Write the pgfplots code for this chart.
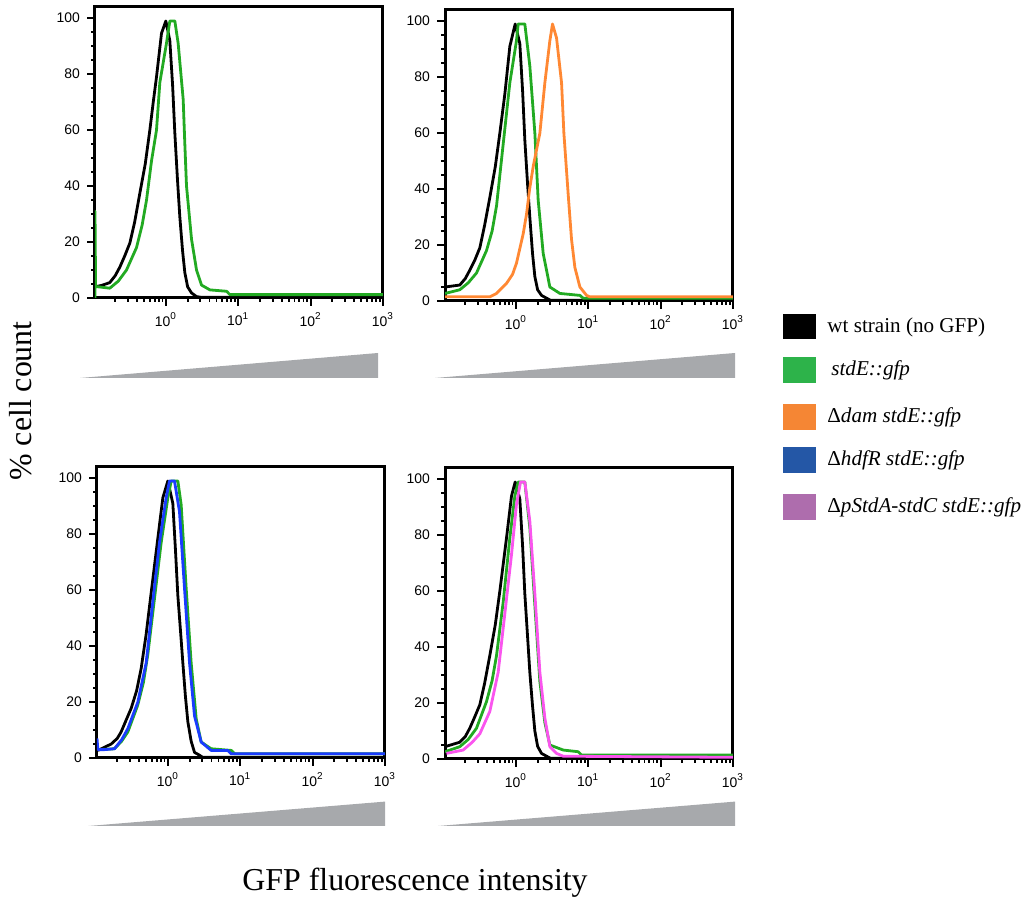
\documentclass[border=0pt]{standalone}
\usepackage{fontspec}
\setmainfont{Liberation Serif}
\newfontfamily\ticksans{Liberation Sans}
\usepackage{pgfplots}
\pgfplotsset{compat=1.18}

% legend swatches
\definecolor{lgreen}{RGB}{45,179,74}
\definecolor{lorange}{RGB}{245,134,52}
\definecolor{lblue}{RGB}{36,87,166}
\definecolor{lpurple}{RGB}{174,109,173}
% histogram lines
\definecolor{cgreen}{RGB}{34,170,34}
\definecolor{corange}{RGB}{255,136,51}
\definecolor{cblue}{RGB}{26,60,255}
\definecolor{cmagenta}{RGB}{250,85,238}
\definecolor{wedge}{RGB}{167,169,172}

\pgfkeys{/pgf/number format/assume math mode=true}
\pgfplotsset{
  every axis/.append style={
    scale only axis, width=144bp, height=145.5bp,
    ymin=0, ymax=104,
    axis line style={line width=1.5bp},
    xtick={1,10,100,1000},
    xticklabels={10\textsuperscript{0},10\textsuperscript{1},10\textsuperscript{2},10\textsuperscript{3}},
    ytick={0,20,...,100},
    minor ytick={5,10,...,95},
    minor xtick={0.2,0.3,0.4,0.5,0.6,0.7,0.8,0.9,2,3,4,5,6,7,8,9,20,30,40,50,60,70,80,90,200,300,400,500,600,700,800,900},
    tick align=outside, xtick pos=bottom, ytick pos=left,
    major tick length=4bp, minor tick length=2bp,
    tick style={black, line width=0.9bp},
    ticklabel style={font=\ticksans\fontsize{7}{8}\selectfont},
  },
  every axis plot/.append style={line width=1.4bp, mark=none, line join=round},
}

\begin{document}
\begin{tikzpicture}
\useasboundingbox (0,0) rectangle (514.5bp,450.5bp);

% top left
\begin{axis}[xmode=log, xmin=0.105, xmax=1000, at={(47.5bp,301.5bp)}, anchor=south west]
\addplot[black] coordinates {
  (0.105,4)(0.13,4.5)(0.168,5.5)(0.2,8)(0.231,11)(0.27,15)(0.318,19.6)(0.37,27)(0.437,37.4)
  (0.52,48)(0.601,60)(0.67,70)(0.743,79)(0.871,94.6)(1,99)(1.135,92)(1.24,76)(1.331,59)
  (1.45,42)(1.56,29)(1.7,17)(1.831,9)(2.0,4)(2.264,1.8)(2.654,0.5)(3,0.3)(1000,0.3)
};
\addplot[cgreen] coordinates {
  (0.105,0)(0.105,31)(0.107,4)(0.116,4)(0.168,3.5)(0.22,6)(0.286,10)(0.393,18)(0.47,26)(0.541,35)(0.634,49)
  (0.743,60)(0.826,77)(1.02,91)(1.135,99)(1.331,99)(1.48,91)(1.736,71)(1.83,55)(1.93,40)(2.264,21)
  (2.654,10)(3.112,4.6)(4.06,2.9)(6.90,2.4)(7.67,1.2)(1000,1.2)
};
\end{axis}

% top right
\begin{axis}[xmode=log, xmin=0.105, xmax=1000, at={(222.5bp,300bp)}, anchor=south west]
\addplot[black] coordinates {
  (0.105,5)(0.168,5.7)(0.2,8)(0.231,11)(0.27,14.5)(0.318,19)(0.37,27)(0.437,37)(0.52,48)(0.601,60)
  (0.705,74)(0.826,91)(0.979,99)(1.135,92)(1.24,75)(1.331,57.5)(1.45,42)(1.56,30)(1.7,17)(1.831,8.7)
  (2.0,4)(2.264,2)(2.654,1)(3,0.3)(1000,0.3)
};
\addplot[cgreen] coordinates {
  (0.105,2.7)(0.168,4)(0.22,6.5)(0.286,10)(0.393,18)(0.47,25)(0.541,34)(0.668,56)(0.826,78)(1.02,93)(1.077,99)
  (1.331,99)(1.56,84)(1.831,60)(2.035,36)(2.387,17)(2.951,5)(4.06,2.7)(7.67,2)(8.53,1)(1000,1)
};
\addplot[corange] coordinates {
  (0.105,1.5)(0.437,1.5)(0.541,2.7)(0.743,6.3)(0.9,9.5)(1.02,13.5)(1.263,24)(1.404,31)(1.55,40)(1.736,48)
  (2.147,60)(2.517,78)(2.951,93)(3.21,99)(3.65,94)(4.28,78)(4.61,60)(5.29,38)(5.88,22)
  (6.54,12)(7.67,5)(9.49,2)(10.5,1.5)(1000,1.5)
};
\end{axis}

% bottom left
\begin{axis}[xmode=log, xmin=0.105, xmax=1000, at={(48.5bp,71.5bp)}, anchor=south west]
\addplot[black] coordinates {
  (0.108,2.7)(0.165,5)(0.2,7)(0.226,9.3)(0.27,14)(0.311,17.7)(0.37,24)(0.428,32)(0.5,44)(0.588,59)
  (0.727,78.5)(0.853,93)(1,99)(1.172,91)(1.27,75)(1.375,58)(1.5,45)(1.612,34)(1.75,22)(1.889,13)
  (2.1,6)(2.337,2)(2.74,1)(3,0.3)(1000,0.3)
};
\addplot[cgreen] coordinates {
  (0.1135,3)(0.183,3.3)(0.23,6)(0.280,9.3)(0.385,19)(0.46,27)(0.529,37)(0.654,57)(0.809,77)(1,93)(1.112,99)
  (1.375,99)(1.528,90.5)(1.792,60.6)(2.10,34)(2.465,14)(2.89,5.7)(3.97,3.3)(7.51,2.7)(8.36,1.5)(1000,1.5)
};
\addplot[cblue] coordinates {
  (0.105,7)(0.108,3)(0.133,3)(0.183,3.3)(0.23,6.5)(0.280,10.5)(0.385,20)(0.502,34)(0.621,56)(0.767,77)
  (0.948,93)(1.054,99)(1.236,99)(1.449,88)(1.70,60.6)(1.994,34)(2.337,15)(2.89,5.7)(3.97,2.7)
  (6.75,2.7)(7.51,1.5)(1000,1.5)
};
\end{axis}

% bottom right
\begin{axis}[xmode=log, xmin=0.105, xmax=1000, at={(222.5bp,71bp)}, anchor=south west]
\addplot[black] coordinates {
  (0.105,4.4)(0.168,6)(0.2,8)(0.231,11)(0.27,15)(0.318,19.4)(0.37,27)(0.437,37)(0.52,48)(0.601,60)
  (0.743,79)(0.871,94)(0.979,99)(1.135,93)(1.24,76)(1.331,59)(1.45,44)(1.56,31)(1.7,19)(1.831,10)
  (2.0,4.5)(2.264,2)(2.654,1)(3,0.3)(1000,0.3)
};
\addplot[cgreen] coordinates {
  (0.105,2.6)(0.168,4.4)(0.22,7)(0.286,11)(0.393,20.5)(0.47,28)(0.541,37)(0.668,56)(0.826,79)(0.969,94)
  (1.077,99)(1.331,99)(1.56,82.7)(1.831,55)(2.147,27.7)(2.517,13)(2.951,5)(4.51,3.2)
  (7.27,2.6)(8.09,1.4)(1000,1.4)
};
\addplot[cmagenta] coordinates {
  (0.11,2)(0.187,3.2)(0.25,6)(0.318,9)(0.437,17)(0.570,31)(0.705,52)(0.871,73)(1.02,91)(1.16,99)
  (1.331,99)(1.56,85)(1.831,59)(2.147,31)(2.517,14.6)(2.951,4.4)(3.65,2)(4.51,1)(1000,0.6)
};
\end{axis}

% intensity wedges
\fill[wedge] (40bp,261.5bp) -- (189bp,261.5bp) -- (189bp,274bp) -- cycle;
\fill[wedge] (217.5bp,261.5bp) -- (367.5bp,261.5bp) -- (367.5bp,274bp) -- cycle;
\fill[wedge] (44.2bp,37.5bp) -- (192.5bp,37.5bp) -- (192.5bp,49.7bp) -- cycle;
\fill[wedge] (219bp,37.5bp) -- (367.5bp,37.5bp) -- (367.5bp,49.7bp) -- cycle;

% legend
\begin{scope}[every node/.style={anchor=west, inner sep=0pt, font=\fontsize{10.6}{12}\selectfont}]
\fill[black]   (391.5bp,281bp) rectangle (408bp,293.5bp);
\node at (413.5bp,287bp) {wt strain (no GFP)};
\fill[lgreen]  (391.5bp,259bp) rectangle (408bp,272bp);
\node at (415.5bp,265.5bp) {\textit{stdE::gfp}};
\fill[lorange] (391.5bp,235.5bp) rectangle (408bp,248.5bp);
\node at (413.5bp,242bp) {Δ\textit{dam stdE::gfp}};
\fill[lblue]   (391.5bp,214bp) rectangle (408bp,227bp);
\node at (413.5bp,220.5bp) {Δ\textit{hdfR stdE::gfp}};
\fill[lpurple] (391.5bp,190.5bp) rectangle (408bp,203.5bp);
\node at (413.5bp,197bp) {Δ\textit{pStdA-stdC stdE::gfp}};
\end{scope}

% axis titles
\node[rotate=90, font=\fontsize{16}{18}\selectfont] at (10.5bp,250bp) {\% cell count};
\node[font=\fontsize{16}{18}\selectfont] at (207.5bp,9bp) {GFP fluorescence intensity};
\end{tikzpicture}
\end{document}
